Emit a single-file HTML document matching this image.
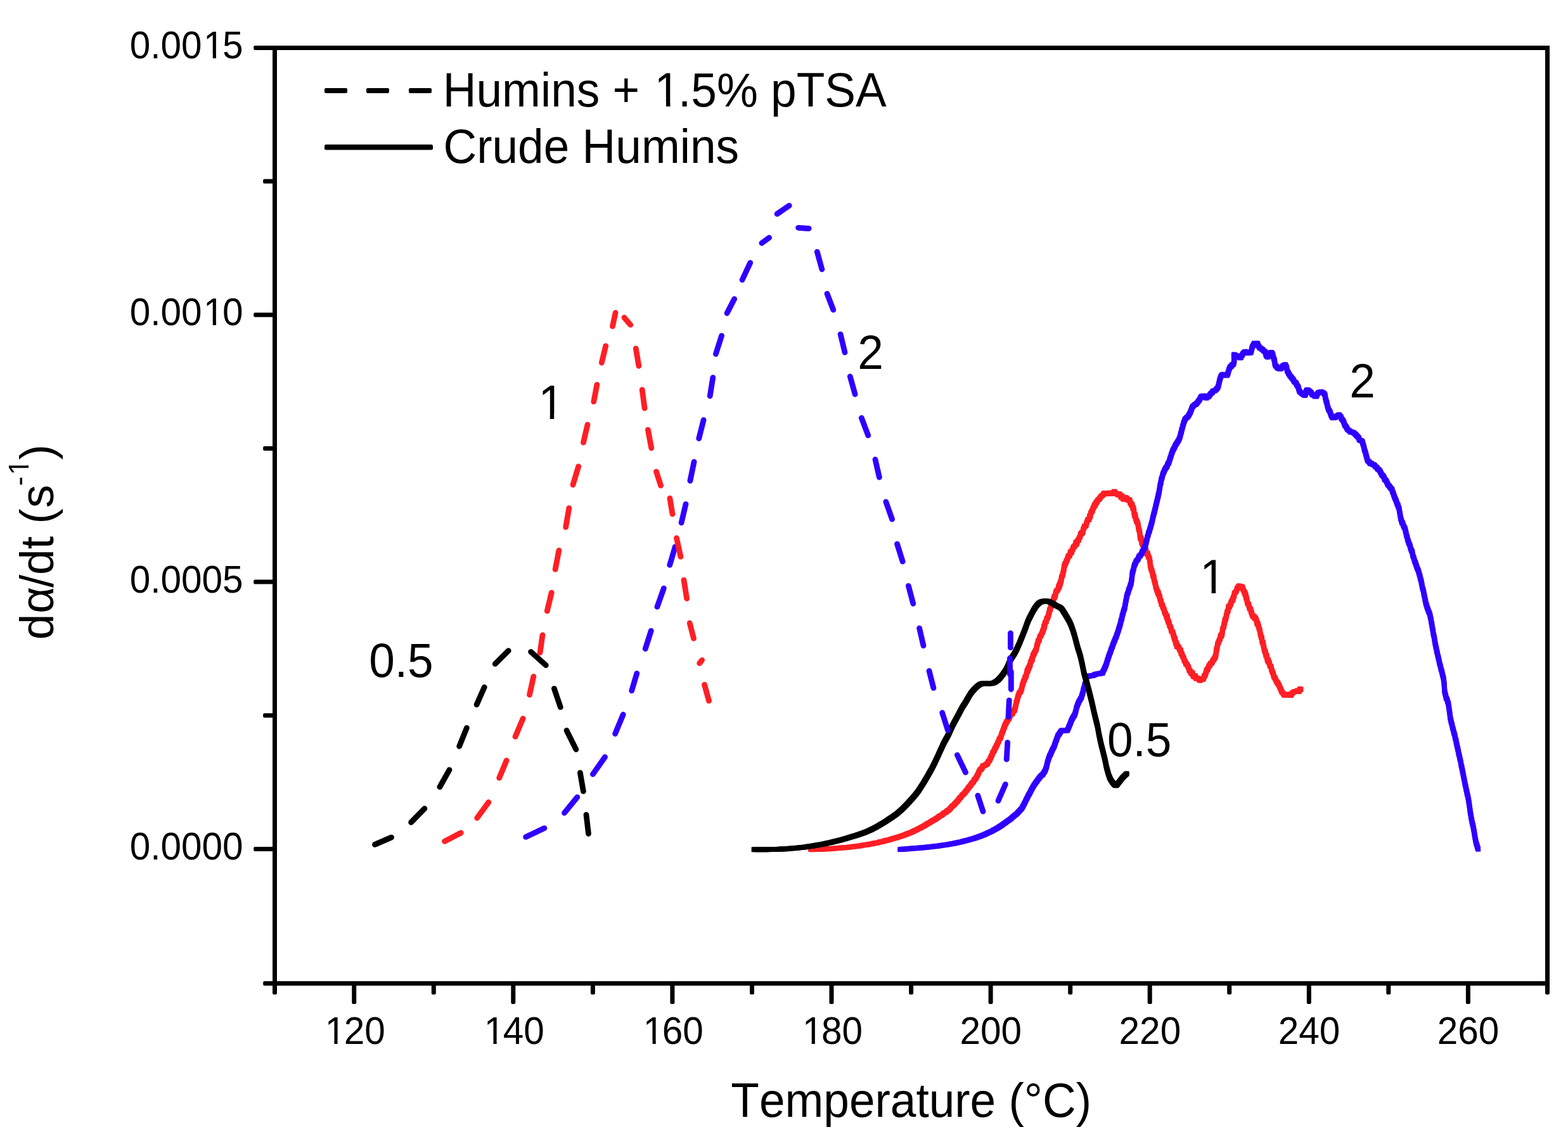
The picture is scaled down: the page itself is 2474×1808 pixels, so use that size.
<!DOCTYPE html>
<html lang="en"><head><meta charset="utf-8"><title>Humins DSC conversion rate</title>
<style>
html,body{margin:0;padding:0;background:#fff;}
body{width:2474px;height:1808px;overflow:hidden;}
svg{display:block;}
text{font-family:"Liberation Sans",sans-serif;fill:#000;font-kerning:none;}
.tk{font-size:58.5px;}
.lb{font-size:73.0px;}
.fr{stroke:#000;stroke-width:7;fill:none;stroke-linecap:butt;stroke-linejoin:miter;}
.m{fill:#fff;}
</style></head><body>
<svg width="2474" height="1808" viewBox="0 0 2474 1808">
<rect x="0" y="0" width="2474" height="1808" fill="#fff"/>
<text class="tk" transform="translate(204.66 91.60) scale(1 1.03)">0.00<tspan dx="2.57">1</tspan><tspan dx="-2.57">5</tspan></text><rect class="m" x="324.02" y="85.88" width="11.76" height="7.22"/><rect class="m" x="340.99" y="85.88" width="11.12" height="7.22"/>
<text class="tk" transform="translate(204.66 513.20) scale(1 1.03)">0.00<tspan dx="2.57">1</tspan><tspan dx="-2.57">0</tspan></text><rect class="m" x="324.02" y="507.48" width="11.76" height="7.22"/><rect class="m" x="340.99" y="507.48" width="11.12" height="7.22"/>
<text class="tk" transform="translate(204.66 934.80) scale(1 1.03)">0.0005</text>
<text class="tk" transform="translate(204.66 1356.40) scale(1 1.03)">0.0000</text>
<text class="tk" transform="translate(510.09 1646.60) scale(1 1.03)"><tspan dx="2.57">1</tspan><tspan dx="-2.57">2</tspan>0</text><rect class="m" x="515.59" y="1640.88" width="11.76" height="7.22"/><rect class="m" x="532.56" y="1640.88" width="11.12" height="7.22"/>
<text class="tk" transform="translate(761.19 1646.60) scale(1 1.03)"><tspan dx="2.57">1</tspan><tspan dx="-2.57">4</tspan>0</text><rect class="m" x="766.69" y="1640.88" width="11.76" height="7.22"/><rect class="m" x="783.66" y="1640.88" width="11.12" height="7.22"/>
<text class="tk" transform="translate(1012.29 1646.60) scale(1 1.03)"><tspan dx="2.57">1</tspan><tspan dx="-2.57">6</tspan>0</text><rect class="m" x="1017.79" y="1640.88" width="11.76" height="7.22"/><rect class="m" x="1034.76" y="1640.88" width="11.12" height="7.22"/>
<text class="tk" transform="translate(1263.39 1646.60) scale(1 1.03)"><tspan dx="2.57">1</tspan><tspan dx="-2.57">8</tspan>0</text><rect class="m" x="1268.89" y="1640.88" width="11.76" height="7.22"/><rect class="m" x="1285.86" y="1640.88" width="11.12" height="7.22"/>
<text class="tk" transform="translate(1514.49 1646.60) scale(1 1.03)">200</text>
<text class="tk" transform="translate(1765.59 1646.60) scale(1 1.03)">220</text>
<text class="tk" transform="translate(2016.69 1646.60) scale(1 1.03)">240</text>
<text class="tk" transform="translate(2267.79 1646.60) scale(1 1.03)">260</text>
<text class="lb" transform="translate(582.15 1068.00) scale(1 1.044)">0.5</text>
<text class="lb" transform="translate(846.19 661.00) scale(1 1.044)"><tspan dx="3.21">1</tspan></text><rect class="m" x="853.05" y="653.76" width="14.67" height="8.74"/><rect class="m" x="874.22" y="653.76" width="13.87" height="8.74"/>
<text class="lb" transform="translate(1353.20 581.90) scale(1 1.044)">2</text>
<text class="lb" transform="translate(2129.20 626.90) scale(1 1.044)">2</text>
<text class="lb" transform="translate(1890.09 935.90) scale(1 1.044)"><tspan dx="3.21">1</tspan></text><rect class="m" x="1896.95" y="928.66" width="14.67" height="8.74"/><rect class="m" x="1918.12" y="928.66" width="13.87" height="8.74"/>
<text class="lb" transform="translate(1747.00 1193.40) scale(1 1.044)">0.5</text>
<text class="lb" transform="translate(1153.3 1762) scale(1 1.04)">Temperature (°C)</text>
<g transform="translate(84.4 1009.2) rotate(-90)"><text class="lb" transform="scale(1 1.015)"><tspan x="0">d</tspan><tspan x="41.5">α</tspan><tspan x="82.3">/</tspan><tspan x="102.1">d</tspan><tspan x="142.9">t</tspan><tspan x="163.2"> </tspan><tspan x="182.6">(</tspan><tspan x="207.9">s</tspan><tspan x="242.6" dy="-38.52" font-size="44.5px">-</tspan><tspan x="259.8" font-size="44.5px">1</tspan><tspan x="283.7" dy="38.52">)</tspan></text><rect class="m" x="262.03" y="-43.62" width="8.94" height="5.52"/><rect class="m" x="274.93" y="-43.62" width="8.46" height="5.52"/></g>
<text class="lb" transform="translate(698.8 168.2) scale(1 1.04)">Humins + <tspan dx="3.21">1</tspan><tspan dx="-3.21">.</tspan>5% pTSA</text><rect class="m" x="1036.31" y="160.99" width="14.67" height="8.71"/><rect class="m" x="1057.48" y="160.99" width="13.87" height="8.71"/>
<text class="lb" transform="translate(699.5 257.1) scale(1 1.04)">Crude Humins</text>
<rect x="512" y="139" width="36" height="8" rx="2.2" fill="#000"/><rect x="578" y="139" width="36" height="8" rx="2.2" fill="#000"/><rect x="645" y="139" width="36" height="8" rx="2.2" fill="#000"/><rect x="512" y="228" width="171" height="8.6" rx="2.4" fill="#000"/>
<defs>
<path id="s-red" d="M1279.0 1340.2L1280.1 1340.1L1281.3 1340.1L1282.8 1340.2L1284.4 1340.0L1286.2 1340.0L1288.1 1340.0L1290.2 1339.8L1292.3 1339.8L1294.5 1339.8L1296.8 1339.8L1299.1 1339.4L1301.5 1339.4L1303.9 1339.2L1306.2 1339.3L1307.9 1339.2L1309.6 1338.8L1311.4 1339.1L1313.3 1338.9L1315.1 1338.7L1317.0 1338.5L1319.0 1338.2L1321.0 1338.0L1322.9 1338.1L1325.0 1337.7L1327.0 1337.6L1329.0 1337.4L1331.1 1337.2L1333.1 1337.2L1335.1 1337.0L1337.2 1336.9L1339.2 1336.6L1341.2 1336.4L1343.2 1336.1L1345.1 1336.0L1347.1 1335.6L1349.0 1335.3L1351.0 1335.3L1352.9 1335.1L1354.9 1334.7L1356.8 1334.4L1358.8 1334.0L1360.7 1333.6L1362.7 1333.4L1364.6 1333.0L1366.6 1332.9L1368.5 1332.5L1370.4 1332.3L1372.4 1331.8L1374.3 1331.6L1376.3 1331.2L1378.2 1330.5L1380.2 1330.2L1382.1 1330.1L1384.1 1329.5L1386.0 1329.2L1388.0 1328.5L1390.0 1327.9L1392.0 1327.7L1394.0 1327.3L1396.0 1326.5L1398.1 1326.0L1400.1 1325.5L1402.1 1325.2L1404.1 1324.6L1406.1 1323.8L1408.1 1323.3L1410.1 1322.7L1412.0 1322.1L1413.9 1321.8L1415.8 1321.0L1417.7 1320.5L1419.5 1319.9L1421.3 1319.2L1423.0 1318.9L1425.1 1317.9L1427.1 1317.4L1429.1 1316.4L1431.0 1315.8L1432.8 1315.0L1434.6 1314.3L1436.4 1313.9L1438.2 1313.0L1439.9 1312.0L1441.7 1311.5L1443.4 1310.3L1445.1 1309.6L1446.8 1309.0L1448.6 1308.0L1450.4 1306.8L1452.2 1306.4L1453.9 1305.0L1455.7 1304.1L1457.5 1303.5L1459.3 1302.2L1461.1 1301.1L1462.9 1299.9L1464.7 1298.8L1466.5 1298.1L1468.3 1296.7L1470.0 1295.9L1471.8 1294.7L1473.5 1293.7L1475.2 1293.0L1476.8 1291.6L1478.4 1290.6L1479.9 1289.9L1481.4 1288.3L1483.3 1287.0L1485.2 1286.5L1486.9 1285.2L1488.6 1283.5L1490.2 1282.4L1491.7 1281.8L1493.2 1280.9L1494.7 1279.0L1496.2 1278.5L1497.7 1277.2L1499.2 1275.6L1500.8 1273.9L1502.2 1272.2L1503.6 1270.8L1505.1 1270.4L1506.5 1268.0L1507.9 1267.0L1509.4 1264.9L1510.8 1264.0L1512.2 1262.1L1513.6 1260.1L1515.0 1258.3L1516.4 1257.5L1517.7 1255.0L1519.0 1253.7L1520.3 1252.7L1521.7 1251.4L1523.1 1249.4L1524.5 1247.3L1525.8 1246.7L1527.1 1244.0L1528.4 1242.2L1529.7 1241.0L1531.0 1239.7L1532.2 1237.4L1533.4 1236.0L1534.6 1234.6L1535.9 1233.3L1537.0 1230.8L1538.1 1229.5L1539.2 1228.6L1540.4 1226.8L1541.5 1224.3L1542.6 1222.5L1543.6 1220.4L1544.7 1217.7L1545.7 1215.7L1546.7 1214.0L1547.7 1214.2L1548.6 1212.4L1549.5 1211.7L1551.2 1207.9L1552.8 1208.0L1554.2 1207.0L1555.5 1206.9L1556.8 1205.1L1558.2 1205.1L1559.1 1201.7L1560.0 1201.2L1560.9 1199.9L1561.8 1198.5L1562.7 1196.2L1563.6 1194.2L1564.5 1192.4L1565.4 1190.6L1566.4 1187.2L1567.2 1186.4L1568.1 1185.3L1568.9 1183.6L1569.8 1180.8L1570.7 1180.0L1571.6 1178.4L1572.5 1175.9L1573.4 1174.3L1574.3 1171.9L1575.1 1170.7L1575.9 1169.0L1576.7 1165.8L1577.6 1165.5L1578.4 1164.5L1579.2 1162.2L1580.0 1159.8L1580.7 1156.8L1581.5 1155.9L1582.2 1153.5L1582.9 1151.2L1583.6 1150.6L1584.3 1146.7L1585.0 1147.1L1585.9 1142.8L1586.8 1142.6L1587.6 1140.6L1588.4 1138.2L1589.2 1138.1L1590.1 1135.8L1591.1 1134.4L1592.2 1133.7L1593.4 1130.0L1594.6 1127.5L1595.9 1126.7L1597.2 1126.2L1598.4 1122.8L1599.5 1120.8L1600.5 1121.4L1601.1 1118.8L1601.7 1116.3L1602.2 1116.0L1602.7 1112.1L1603.1 1111.4L1603.5 1107.8L1603.9 1106.7L1604.3 1106.2L1604.8 1104.8L1605.3 1103.0L1606.0 1099.1L1606.8 1098.0L1607.5 1095.2L1608.3 1092.7L1609.1 1092.3L1609.9 1091.9L1610.7 1090.2L1611.4 1087.9L1612.0 1087.0L1612.7 1082.5L1613.3 1080.2L1613.9 1079.5L1614.4 1077.0L1615.0 1074.9L1615.6 1073.9L1616.2 1073.0L1616.9 1070.5L1617.6 1067.8L1618.3 1068.1L1619.0 1066.8L1619.7 1062.7L1620.4 1059.2L1621.0 1057.2L1621.7 1059.0L1622.4 1053.7L1623.1 1054.9L1623.8 1052.6L1624.5 1049.8L1625.2 1050.2L1625.9 1044.9L1626.6 1043.6L1627.3 1043.2L1628.0 1039.3L1628.7 1041.1L1629.3 1036.4L1630.0 1034.0L1630.7 1031.7L1631.4 1032.5L1632.1 1029.7L1632.8 1028.7L1633.5 1026.9L1634.2 1025.8L1634.9 1024.6L1635.6 1021.4L1636.3 1017.1L1637.0 1016.5L1637.7 1013.1L1638.3 1010.3L1639.0 1010.7L1639.7 1010.1L1640.4 1005.5L1641.1 1004.2L1641.8 1002.9L1642.5 1003.0L1643.2 1000.5L1643.9 999.2L1644.6 998.2L1645.3 994.5L1645.9 994.9L1646.5 993.7L1647.1 987.6L1647.7 990.1L1648.3 987.1L1648.9 982.2L1649.5 982.1L1650.1 981.2L1650.8 980.7L1651.5 976.0L1652.2 975.0L1653.0 974.7L1653.6 972.4L1654.3 971.3L1654.9 967.0L1655.6 965.9L1656.2 961.6L1656.8 962.3L1657.3 960.8L1657.9 957.9L1658.6 956.2L1659.2 951.8L1659.9 953.4L1660.6 951.9L1661.3 949.9L1662.0 945.6L1662.7 945.1L1663.4 940.9L1664.2 942.0L1665.0 939.8L1665.8 935.4L1666.6 932.3L1667.5 932.4L1668.3 931.2L1669.0 930.7L1669.8 927.8L1670.6 924.1L1671.3 926.5L1672.2 920.5L1673.1 921.6L1673.5 916.9L1673.9 916.2L1674.3 916.8L1674.8 911.5L1675.2 909.6L1675.7 909.5L1676.2 908.5L1676.7 906.9L1677.1 904.0L1677.6 903.3L1678.1 898.9L1678.6 899.3L1679.1 892.9L1679.5 891.9L1680.0 891.9L1680.8 888.4L1681.5 888.5L1682.3 886.1L1683.1 883.7L1683.8 883.7L1684.6 880.6L1685.4 877.8L1686.1 876.6L1686.9 877.5L1687.9 875.9L1688.9 870.6L1689.9 872.3L1690.8 871.3L1691.8 867.5L1692.8 866.2L1693.8 862.7L1694.8 862.8L1695.8 861.0L1696.8 859.9L1697.7 855.3L1698.7 858.6L1699.7 854.6L1700.7 852.2L1701.6 852.7L1702.4 849.7L1703.3 847.7L1704.2 846.9L1705.0 841.9L1705.9 842.6L1706.7 840.2L1707.6 841.3L1708.5 839.4L1709.4 834.2L1710.2 833.5L1711.1 829.9L1712.0 829.8L1712.9 830.0L1713.7 828.8L1714.5 825.0L1715.5 822.1L1716.5 819.6L1717.4 820.0L1718.4 819.7L1719.3 813.7L1720.3 815.1L1721.1 809.2L1721.9 808.1L1722.7 806.3L1723.5 806.6L1724.3 802.6L1725.1 800.9L1726.0 800.4L1727.1 795.8L1728.2 797.2L1729.4 792.3L1730.6 792.7L1731.7 789.7L1732.9 787.9L1734.3 787.8L1735.6 785.5L1737.0 783.5L1738.3 782.2L1739.8 781.6L1741.7 778.4L1743.8 777.7L1745.8 779.2L1747.9 778.7L1749.9 777.6L1752.0 778.9L1754.0 777.5L1755.9 778.7L1758.2 775.4L1760.4 778.3L1762.8 779.6L1764.2 780.9L1765.7 779.0L1767.3 780.2L1768.9 784.7L1770.4 782.3L1772.0 787.4L1773.9 787.8L1775.9 784.7L1777.8 786.0L1779.6 789.4L1781.2 788.2L1782.4 788.7L1783.4 794.0L1784.4 793.5L1785.3 797.2L1786.1 795.7L1787.0 799.3L1787.6 802.5L1788.2 800.9L1788.8 803.9L1789.3 808.4L1789.9 811.8L1790.4 814.2L1791.0 811.9L1791.6 815.9L1792.1 819.3L1792.7 819.9L1793.3 822.9L1793.9 822.3L1794.5 823.7L1795.1 825.9L1795.6 827.6L1796.2 832.3L1796.6 834.1L1797.1 836.4L1797.5 836.3L1797.9 838.6L1798.3 840.7L1798.7 846.0L1799.1 848.8L1799.6 850.3L1800.2 848.1L1800.7 849.9L1801.3 856.4L1801.9 855.8L1802.6 859.2L1803.4 858.9L1804.2 861.7L1805.0 863.7L1805.9 865.0L1806.8 867.6L1807.8 866.4L1808.8 871.8L1809.8 874.3L1810.7 872.7L1811.5 876.0L1812.3 879.3L1812.9 879.5L1813.4 880.4L1813.8 882.3L1814.2 886.1L1814.5 885.5L1814.9 892.1L1815.3 893.7L1815.7 895.2L1816.2 898.0L1816.8 898.8L1817.3 899.5L1817.9 902.5L1818.5 904.0L1819.1 908.5L1819.7 909.7L1820.3 909.0L1820.8 914.3L1821.3 915.5L1821.8 917.8L1822.4 920.1L1822.9 920.1L1823.4 924.8L1823.9 926.8L1824.4 927.8L1824.9 930.0L1825.6 932.2L1826.2 932.3L1826.8 935.9L1827.5 934.3L1828.1 937.6L1828.8 940.2L1829.5 939.9L1830.1 943.4L1830.7 946.6L1831.3 948.3L1832.0 948.1L1832.6 953.7L1833.3 954.1L1834.0 954.2L1834.6 957.6L1835.3 958.9L1836.1 960.8L1836.9 962.0L1837.8 967.1L1838.6 967.1L1839.4 969.3L1840.2 971.6L1841.0 974.8L1841.6 971.8L1842.2 976.9L1842.8 979.6L1843.3 979.2L1843.8 982.1L1844.4 982.3L1845.0 985.0L1845.6 987.8L1846.5 988.5L1847.5 991.1L1848.5 996.3L1849.5 996.2L1850.5 997.8L1851.4 1002.3L1852.0 1002.1L1852.5 1006.3L1853.1 1006.5L1853.6 1009.5L1854.1 1008.0L1854.7 1012.7L1855.3 1015.5L1856.0 1013.8L1856.8 1020.0L1857.8 1017.9L1858.8 1021.0L1859.9 1021.1L1860.9 1024.2L1861.9 1026.3L1862.9 1025.4L1863.7 1031.5L1864.6 1030.9L1865.3 1033.4L1866.1 1035.7L1866.9 1036.7L1867.7 1038.3L1868.6 1042.0L1869.4 1043.3L1870.3 1043.9L1871.1 1047.7L1872.0 1047.6L1872.9 1048.1L1873.8 1050.9L1874.6 1051.6L1875.5 1053.6L1876.7 1058.1L1877.8 1058.2L1879.0 1061.9L1880.1 1062.7L1881.3 1061.1L1882.4 1066.4L1884.1 1068.0L1885.8 1065.9L1887.5 1070.7L1889.3 1069.8L1891.3 1070.9L1893.4 1073.7L1895.5 1070.9L1897.4 1071.3L1898.4 1071.8L1899.4 1069.2L1900.3 1066.1L1901.2 1066.0L1902.1 1063.1L1903.1 1060.2L1904.0 1056.4L1905.0 1057.0L1906.0 1054.6L1907.0 1051.8L1908.0 1049.5L1909.0 1050.0L1910.0 1046.5L1911.0 1046.4L1912.0 1046.0L1913.1 1043.6L1914.1 1041.2L1915.1 1041.0L1916.0 1038.5L1916.9 1038.0L1917.4 1035.3L1917.9 1035.8L1918.3 1033.8L1918.7 1030.9L1919.0 1026.5L1919.4 1023.9L1919.8 1025.7L1920.2 1023.1L1920.6 1020.4L1921.0 1017.1L1921.5 1014.9L1922.1 1015.0L1922.8 1012.5L1923.5 1010.8L1924.2 1009.2L1925.0 1008.0L1925.7 1003.3L1926.4 1001.8L1927.1 1003.7L1927.8 1001.6L1928.4 999.6L1929.0 993.2L1929.6 991.3L1930.1 990.4L1930.6 989.2L1931.0 988.2L1931.5 983.4L1932.0 983.7L1932.5 979.1L1933.0 977.1L1933.5 978.3L1934.0 975.7L1934.5 974.2L1935.0 970.8L1935.5 969.3L1936.1 965.9L1936.6 964.6L1937.2 964.8L1937.7 963.5L1938.2 957.8L1938.8 956.5L1939.7 957.7L1940.7 954.7L1941.7 953.7L1942.7 949.2L1943.6 948.6L1944.5 945.8L1945.2 946.7L1945.9 942.4L1946.5 941.7L1947.1 941.3L1947.7 935.8L1948.4 935.1L1949.1 934.5L1950.5 933.0L1952.0 928.4L1953.5 926.6L1954.9 924.2L1957.2 927.9L1959.5 925.3L1960.4 926.3L1961.3 930.1L1962.2 931.3L1963.1 934.2L1964.1 934.5L1964.6 938.6L1965.2 936.8L1965.7 939.5L1966.2 943.9L1966.8 943.0L1967.4 946.4L1968.0 950.7L1968.7 952.6L1969.3 952.3L1970.0 953.4L1970.8 956.4L1971.6 960.2L1972.4 960.2L1973.2 960.7L1974.0 965.5L1974.8 966.5L1975.6 969.9L1976.6 971.8L1977.6 973.3L1978.6 972.3L1979.6 975.6L1980.6 974.5L1981.5 976.3L1982.5 978.7L1983.1 983.0L1983.7 984.5L1984.3 982.9L1984.9 985.4L1985.5 987.3L1986.1 989.2L1986.6 991.3L1987.2 993.2L1987.7 994.2L1988.2 997.9L1988.8 1001.2L1989.3 1001.9L1989.8 1005.4L1990.3 1006.0L1990.8 1006.0L1991.2 1011.0L1991.7 1013.7L1992.3 1012.8L1992.8 1013.6L1993.3 1017.9L1993.8 1019.9L1994.3 1022.0L1994.8 1025.9L1995.4 1026.4L1995.9 1029.1L1996.4 1027.5L1997.0 1031.7L1997.5 1034.7L1998.0 1033.1L1998.6 1034.8L1999.4 1040.1L2000.2 1042.9L2001.0 1041.0L2001.8 1045.2L2002.6 1044.8L2003.4 1049.5L2004.3 1051.2L2005.0 1051.1L2005.6 1052.8L2006.3 1057.1L2007.0 1058.0L2007.7 1061.0L2008.4 1061.4L2009.1 1063.1L2009.8 1067.6L2010.5 1068.1L2011.2 1068.9L2012.2 1071.1L2013.2 1073.5L2014.2 1075.1L2015.2 1077.4L2016.1 1076.8L2017.1 1080.0L2018.1 1081.1L2019.0 1083.5L2019.8 1085.2L2020.7 1087.2L2021.5 1089.4L2022.3 1091.5L2023.2 1092.1L2024.1 1093.1L2025.0 1095.0L2026.9 1096.9L2029.0 1096.2L2031.0 1096.3L2033.1 1095.2L2035.0 1097.0L2036.9 1097.1L2038.9 1093.7L2041.1 1091.8L2043.0 1091.1L2045.1 1091.0L2047.4 1089.4L2049.5 1091.0L2051.3 1086.7L2052.6 1087.8"/>
<path id="s-blue" d="M1420.1 1340.2L1421.2 1340.0L1422.4 1339.8L1423.9 1339.9L1425.5 1339.6L1427.2 1339.6L1429.1 1339.4L1431.0 1339.2L1433.1 1339.2L1435.2 1338.8L1437.4 1338.8L1439.7 1338.5L1442.0 1338.3L1444.3 1338.3L1446.6 1338.2L1448.9 1337.7L1451.2 1337.6L1453.5 1337.5L1455.7 1337.5L1457.9 1337.1L1459.9 1336.8L1461.9 1336.9L1463.9 1336.3L1465.9 1336.4L1467.9 1335.9L1469.9 1335.7L1471.8 1335.4L1473.8 1335.3L1475.7 1335.3L1477.7 1334.8L1479.6 1334.7L1481.5 1334.5L1483.5 1334.1L1485.4 1333.9L1487.3 1333.5L1489.2 1333.2L1491.2 1333.0L1493.1 1332.9L1495.0 1332.4L1496.9 1332.1L1498.9 1331.8L1500.8 1331.4L1502.8 1331.0L1504.8 1330.8L1506.8 1330.3L1508.8 1329.7L1510.8 1329.4L1512.8 1328.9L1514.8 1328.6L1516.9 1328.1L1518.9 1327.4L1520.9 1327.2L1522.9 1326.4L1524.9 1326.0L1526.8 1325.6L1528.8 1324.8L1530.7 1324.4L1532.6 1323.7L1534.4 1323.4L1536.2 1322.9L1538.0 1322.3L1539.7 1321.8L1541.9 1320.9L1543.9 1320.3L1546.0 1319.5L1548.0 1318.8L1549.9 1317.9L1551.8 1317.3L1553.7 1316.5L1555.6 1315.5L1557.4 1314.8L1559.1 1313.7L1560.9 1313.2L1562.6 1312.3L1564.2 1311.7L1565.8 1310.8L1567.4 1309.7L1568.9 1309.0L1570.9 1308.1L1572.7 1306.8L1574.4 1306.0L1576.1 1304.9L1577.6 1303.9L1579.1 1302.9L1580.6 1302.2L1582.1 1300.8L1583.6 1299.8L1585.1 1298.8L1586.7 1297.8L1588.4 1296.2L1589.9 1295.2L1591.5 1294.1L1593.1 1293.0L1594.8 1291.7L1596.4 1290.4L1598.1 1288.7L1599.8 1287.4L1601.4 1286.0L1603.1 1284.9L1604.6 1283.6L1606.1 1281.7L1607.5 1280.4L1608.8 1279.0L1610.0 1277.7L1611.5 1276.1L1612.7 1274.4L1613.8 1272.4L1614.8 1270.4L1615.7 1268.9L1616.5 1267.1L1617.3 1265.5L1618.1 1264.0L1619.0 1262.0L1620.0 1260.0L1620.9 1258.4L1621.8 1256.7L1622.7 1254.4L1623.7 1253.3L1624.6 1251.4L1625.5 1249.7L1626.5 1247.9L1627.4 1245.8L1628.4 1244.2L1629.3 1242.3L1630.2 1241.2L1631.4 1238.9L1632.6 1237.1L1633.7 1235.5L1634.9 1233.8L1636.1 1232.4L1637.3 1230.6L1638.4 1229.0L1639.5 1227.7L1640.5 1226.3L1641.8 1224.9L1643.1 1223.3L1644.3 1222.9L1645.5 1221.4L1646.6 1219.6L1647.7 1218.1L1648.8 1216.2L1649.4 1214.7L1650.0 1212.8L1650.5 1211.8L1651.1 1210.1L1651.6 1207.6L1652.1 1205.6L1652.6 1203.1L1653.2 1201.1L1653.7 1199.4L1654.3 1197.4L1654.9 1196.1L1655.7 1193.5L1656.5 1191.4L1657.3 1190.5L1658.2 1188.2L1659.1 1185.9L1659.9 1184.5L1660.8 1182.1L1661.6 1180.8L1662.4 1179.6L1663.2 1177.7L1664.0 1175.5L1664.7 1173.0L1665.4 1171.2L1666.1 1168.9L1666.8 1167.8L1667.4 1165.6L1668.1 1164.2L1668.7 1162.0L1669.3 1160.4L1670.5 1158.9L1671.7 1157.2L1672.9 1155.3L1673.8 1154.0L1674.5 1153.0L1674.5 1152.9L1675.9 1152.3L1678.0 1152.7L1680.3 1152.6L1682.3 1152.3L1683.8 1152.3L1683.8 1152.7L1684.2 1151.5L1684.9 1150.5L1685.6 1149.0L1686.5 1146.3L1687.3 1144.8L1688.2 1142.7L1689.1 1140.6L1689.9 1138.0L1690.8 1135.9L1691.8 1134.1L1692.7 1132.4L1693.6 1130.7L1694.5 1129.6L1695.3 1128.3L1696.1 1126.3L1696.8 1123.8L1697.4 1122.0L1697.9 1120.1L1698.4 1116.9L1699.0 1115.7L1699.5 1114.0L1700.2 1111.8L1701.0 1110.0L1701.9 1107.9L1702.8 1105.8L1703.7 1105.1L1704.6 1102.7L1705.5 1101.6L1706.4 1099.8L1707.0 1097.3L1707.5 1095.5L1708.1 1094.5L1708.6 1092.2L1709.2 1089.3L1709.7 1087.2L1710.2 1085.3L1710.7 1084.7L1711.1 1082.7L1711.5 1079.9L1712.1 1078.8L1712.7 1076.8L1713.2 1074.0L1713.6 1071.4L1714.0 1069.9L1714.4 1067.6L1714.6 1066.3L1714.6 1068.0L1715.8 1067.2L1717.3 1066.6L1719.1 1067.0L1721.2 1065.7L1723.4 1066.0L1725.8 1065.4L1728.2 1063.8L1730.5 1063.4L1732.7 1063.0L1734.8 1062.5L1736.6 1062.7L1738.2 1061.8L1739.3 1061.9L1739.3 1061.3L1739.8 1061.7L1740.4 1059.2L1741.2 1057.8L1742.0 1056.1L1742.9 1054.7L1743.8 1051.7L1744.7 1050.5L1745.5 1047.6L1746.1 1046.0L1746.7 1044.2L1747.3 1041.3L1748.0 1040.3L1748.6 1037.8L1749.2 1035.5L1749.8 1035.2L1750.4 1032.1L1751.1 1030.8L1751.7 1029.5L1752.4 1027.3L1753.0 1024.9L1753.7 1023.5L1754.4 1021.7L1755.1 1020.4L1755.8 1017.2L1756.5 1016.4L1757.2 1013.9L1757.8 1012.1L1758.5 1011.4L1759.2 1009.0L1759.9 1007.3L1760.6 1006.0L1761.3 1004.5L1762.0 1001.7L1762.7 1000.2L1763.4 998.1L1764.0 996.2L1764.6 994.8L1765.1 992.5L1765.6 990.8L1766.2 988.8L1766.7 988.0L1767.2 985.6L1767.7 984.1L1768.2 982.3L1768.7 979.0L1769.2 977.8L1769.7 976.8L1770.2 974.7L1770.7 971.3L1771.3 969.5L1771.8 968.4L1772.3 965.7L1772.8 964.2L1773.3 962.0L1773.8 961.4L1774.3 959.7L1774.8 958.0L1775.2 954.3L1775.6 953.5L1775.9 951.3L1776.3 948.0L1776.7 947.5L1777.1 945.6L1777.5 941.9L1777.9 941.5L1778.4 938.3L1779.0 936.6L1779.6 935.7L1780.3 933.5L1781.0 930.1L1781.7 928.9L1782.4 927.2L1783.0 925.0L1783.7 922.9L1784.2 921.4L1784.7 920.5L1785.1 916.8L1785.5 915.8L1785.7 913.5L1785.9 910.4L1786.1 909.1L1786.3 907.7L1786.5 905.5L1786.9 902.5L1787.4 902.4L1787.9 899.8L1788.5 898.1L1789.2 894.1L1789.8 892.5L1790.5 890.1L1791.2 889.9L1792.1 886.9L1792.9 884.9L1793.8 884.0L1794.7 883.5L1795.7 881.8L1796.7 879.0L1797.7 877.1L1798.9 877.2L1800.0 874.8L1801.2 873.5L1802.2 870.5L1803.2 868.7L1804.1 868.4L1804.9 866.1L1805.6 863.5L1806.3 863.6L1806.9 861.1L1807.6 859.5L1808.1 856.1L1808.6 856.0L1809.0 852.4L1809.4 852.2L1809.9 849.4L1810.3 847.3L1810.8 845.8L1811.4 844.8L1812.0 841.5L1812.7 839.3L1813.4 838.3L1814.0 835.8L1814.6 833.7L1815.2 831.9L1815.7 829.8L1816.2 828.3L1816.7 826.6L1817.1 824.7L1817.6 823.9L1818.0 821.0L1818.5 819.6L1818.9 817.0L1819.4 815.5L1819.9 813.0L1820.3 811.6L1820.8 809.2L1821.3 808.9L1821.7 806.6L1822.2 803.8L1822.7 802.5L1823.1 801.4L1823.6 797.6L1824.1 797.1L1824.5 794.2L1825.0 792.3L1825.5 791.0L1826.0 788.0L1826.4 786.3L1826.9 784.6L1827.4 783.3L1827.8 779.8L1828.3 778.9L1828.7 776.6L1829.1 774.4L1829.5 771.8L1829.9 769.6L1830.2 767.0L1830.6 765.1L1831.0 763.0L1831.4 762.6L1831.8 759.6L1832.2 757.4L1832.6 755.4L1833.0 755.2L1833.4 753.5L1834.0 751.3L1834.6 748.5L1835.3 746.6L1836.1 744.9L1836.9 743.6L1837.7 741.1L1838.6 739.9L1839.5 737.8L1840.3 737.6L1841.3 735.9L1842.2 733.3L1843.1 730.8L1844.0 730.6L1844.9 727.3L1845.6 725.5L1846.2 722.7L1846.9 721.5L1847.5 719.7L1848.1 717.7L1848.7 715.1L1849.5 713.9L1850.3 710.8L1851.3 709.4L1852.3 707.1L1853.2 705.9L1854.2 703.3L1855.2 701.4L1856.2 700.1L1857.2 698.2L1858.1 697.1L1859.1 695.1L1860.1 693.6L1861.0 691.3L1861.6 689.6L1862.2 687.9L1862.8 684.8L1863.4 682.5L1864.0 681.8L1864.5 677.8L1865.0 677.1L1865.6 675.1L1866.2 671.6L1866.7 671.3L1867.1 669.5L1867.6 667.1L1868.2 665.5L1869.0 664.0L1870.0 660.9L1871.1 660.2L1872.3 658.7L1873.6 658.0L1874.8 656.4L1875.9 654.8L1876.9 652.5L1877.9 651.1L1878.8 648.6L1879.7 646.6L1880.6 643.7L1881.7 641.6L1882.9 640.2L1884.2 639.4L1885.6 637.7L1887.0 638.0L1888.6 635.8L1889.8 634.5L1891.1 632.6L1892.5 630.7L1893.9 628.3L1895.3 625.4L1896.6 625.8L1897.8 624.7L1899.9 624.6L1901.6 626.7L1903.5 628.0L1905.2 625.9L1907.0 625.9L1908.8 623.0L1910.4 621.0L1911.7 619.9L1912.8 619.4L1913.8 616.8L1915.0 616.7L1916.9 616.2L1919.0 614.4L1920.8 612.4L1921.5 611.2L1922.1 609.8L1922.6 607.9L1923.1 605.4L1923.7 603.4L1924.2 600.3L1924.8 598.3L1925.4 596.4L1925.9 595.4L1926.7 592.8L1927.7 592.2L1929.4 590.6L1931.6 591.2L1933.8 592.1L1935.7 592.4L1936.6 591.1L1937.4 589.3L1938.1 586.4L1938.7 584.6L1939.4 582.3L1940.3 580.4L1941.4 578.0L1942.7 578.2L1944.0 575.2L1945.3 575.5L1946.4 573.9L1947.2 570.2L1947.5 569.2L1947.4 567.7L1947.1 565.7L1946.8 562.4L1946.8 560.3L1947.2 559.2L1948.5 560.9L1950.3 560.5L1952.4 563.0L1954.6 563.3L1956.4 564.5L1957.7 564.5L1958.8 561.1L1959.9 560.6L1960.9 557.9L1962.0 557.1L1963.3 555.6L1965.1 554.6L1967.0 556.9L1969.0 557.1L1970.9 556.8L1972.5 556.4L1973.4 556.4L1974.1 554.6L1974.7 552.2L1975.3 549.6L1975.8 547.9L1976.4 545.9L1977.1 545.6L1978.9 541.5L1980.9 541.9L1982.9 542.1L1984.0 541.5L1985.1 544.9L1986.2 546.4L1987.4 548.8L1988.6 549.0L1990.3 550.5L1992.2 551.4L1994.0 553.8L1995.5 554.2L1996.4 555.5L1997.0 558.0L1997.5 560.0L1998.1 561.4L1999.0 562.4L2000.2 563.4L2001.6 560.4L2003.1 559.6L2004.6 556.3L2005.9 555.8L2006.8 557.1L2007.6 557.8L2008.4 560.2L2009.2 563.6L2009.8 565.6L2010.5 567.4L2011.0 569.2L2011.3 572.0L2011.6 574.3L2012.0 575.5L2012.8 577.5L2014.1 577.9L2015.8 580.9L2017.7 581.3L2019.7 582.2L2021.2 581.2L2023.0 578.8L2024.7 576.5L2026.3 577.1L2027.7 575.1L2028.7 576.8L2029.5 578.2L2030.1 580.3L2030.8 583.6L2031.5 586.5L2032.3 586.9L2033.3 589.7L2034.4 590.7L2035.5 593.0L2036.7 594.4L2038.1 595.9L2039.2 597.4L2040.6 599.1L2042.1 602.3L2043.5 603.1L2044.9 604.2L2046.2 607.4L2047.3 609.2L2048.2 610.2L2048.8 611.8L2049.3 614.1L2049.8 615.9L2050.7 618.1L2052.1 619.0L2053.8 620.7L2055.6 621.9L2057.4 623.2L2058.8 623.9L2059.9 622.2L2060.6 618.8L2061.2 616.2L2062.2 615.1L2063.7 615.2L2065.4 616.7L2067.3 618.1L2069.1 620.3L2070.9 623.3L2072.7 622.9L2074.4 625.0L2076.0 625.6L2077.2 625.3L2078.2 622.1L2079.3 620.4L2080.6 619.0L2082.5 618.6L2084.6 618.1L2086.8 619.3L2088.7 620.4L2089.4 621.7L2090.0 621.5L2090.6 623.5L2091.2 627.3L2091.7 630.0L2092.2 631.4L2092.7 633.9L2093.3 634.6L2093.9 637.6L2094.5 640.9L2095.2 642.7L2095.8 644.8L2096.5 647.0L2097.1 647.2L2097.9 648.6L2098.9 651.1L2099.9 654.2L2101.0 656.6L2102.2 658.7L2103.6 659.2L2105.3 659.0L2107.2 658.3L2109.2 656.3L2111.1 655.5L2112.8 654.2L2114.2 656.7L2115.4 656.9L2116.4 660.2L2117.5 661.6L2118.6 662.9L2119.5 664.3L2120.4 666.5L2121.4 669.4L2122.3 671.6L2123.3 672.3L2124.3 673.9L2125.6 676.6L2127.0 678.3L2128.4 679.2L2129.8 680.1L2131.2 681.9L2132.9 681.4L2134.7 682.3L2136.4 683.0L2138.1 685.0L2139.3 685.5L2140.5 687.6L2141.7 688.4L2142.9 689.6L2144.0 691.3L2145.0 694.2L2146.7 695.1L2148.2 695.2L2149.6 696.8L2150.2 699.3L2150.8 701.5L2151.3 702.9L2151.9 704.7L2152.5 707.9L2153.1 710.7L2153.6 711.3L2154.2 712.9L2154.8 715.7L2155.5 718.1L2156.1 720.9L2156.7 721.9L2157.3 725.2L2158.0 726.8L2158.8 727.7L2160.3 728.8L2162.0 731.5L2163.8 730.8L2165.7 733.0L2167.2 732.9L2168.8 734.1L2170.5 736.6L2172.1 737.0L2173.8 740.2L2174.9 740.6L2176.1 741.5L2177.3 743.2L2178.4 745.4L2179.6 747.6L2180.7 750.0L2181.8 749.9L2182.9 752.1L2183.9 753.4L2184.8 756.8L2185.8 756.7L2186.8 758.1L2187.7 759.7L2188.7 762.0L2189.9 764.7L2191.1 766.0L2192.2 767.0L2193.4 769.0L2194.5 770.4L2195.6 771.0L2196.3 772.2L2197.0 775.5L2197.6 776.9L2198.2 777.2L2198.9 780.5L2199.5 781.8L2200.1 783.7L2200.7 785.4L2201.4 786.8L2202.2 788.5L2203.1 791.0L2203.9 793.0L2204.8 796.2L2205.6 796.3L2206.4 800.1L2207.1 800.7L2207.6 802.9L2208.0 805.9L2208.3 808.0L2208.7 809.3L2209.0 810.6L2209.3 813.7L2209.7 815.6L2210.1 818.8L2210.6 819.0L2211.3 821.6L2212.0 824.7L2212.9 824.5L2213.7 827.2L2214.6 829.9L2215.5 831.8L2216.3 832.5L2216.8 834.1L2217.4 836.0L2217.9 839.7L2218.4 840.2L2218.9 843.3L2219.4 845.6L2220.0 846.4L2220.5 848.2L2221.0 851.6L2221.5 852.7L2222.1 853.7L2222.7 856.7L2223.4 857.8L2224.1 859.6L2224.8 860.9L2225.4 864.3L2226.1 866.4L2226.7 867.5L2227.3 869.7L2227.8 869.3L2228.4 871.7L2228.8 873.9L2229.2 876.4L2229.6 878.0L2230.1 878.6L2230.8 880.6L2231.3 882.6L2231.9 884.4L2232.6 887.1L2233.3 887.3L2234.0 890.6L2234.8 892.5L2235.5 894.7L2236.3 896.7L2237.0 898.4L2237.7 899.9L2238.4 902.0L2238.9 904.0L2239.5 906.8L2240.0 907.2L2240.5 909.4L2241.0 912.7L2241.5 913.5L2242.0 915.2L2242.5 917.2L2242.9 920.4L2243.4 922.0L2243.9 925.5L2244.4 927.4L2244.9 929.5L2245.3 929.9L2245.7 931.5L2246.2 933.5L2246.6 936.5L2247.0 939.0L2247.5 940.5L2247.9 942.0L2248.3 944.5L2248.7 946.9L2249.2 948.9L2249.6 950.9L2250.0 952.9L2250.5 954.2L2251.1 955.2L2251.7 958.7L2252.3 959.3L2253.0 961.6L2253.6 962.8L2254.2 965.3L2254.8 965.7L2255.4 967.6L2256.0 969.4L2256.5 971.2L2257.0 974.6L2257.4 975.8L2257.8 977.2L2258.2 979.4L2258.5 982.7L2258.9 983.7L2259.3 985.2L2259.6 988.6L2260.0 990.3L2260.3 993.2L2260.7 993.3L2261.1 996.1L2261.4 998.9L2261.8 1001.0L2262.2 1003.1L2262.5 1003.2L2262.9 1005.7L2263.2 1007.3L2263.6 1009.4L2264.0 1013.1L2264.4 1014.3L2264.8 1017.1L2265.2 1018.0L2265.6 1021.2L2266.0 1022.2L2266.4 1023.7L2266.8 1026.7L2267.2 1029.0L2267.7 1029.2L2268.1 1032.2L2268.5 1034.3L2269.0 1035.5L2269.4 1037.8L2269.9 1039.3L2270.3 1041.4L2270.8 1043.4L2271.2 1046.0L2271.7 1048.0L2272.2 1049.2L2272.7 1051.0L2273.3 1053.7L2273.8 1056.4L2274.4 1057.5L2274.9 1059.8L2275.5 1061.6L2276.0 1064.7L2276.5 1066.2L2276.9 1067.3L2277.4 1069.3L2277.7 1071.7L2278.0 1074.0L2278.3 1076.2L2278.5 1077.2L2278.6 1079.3L2278.8 1082.2L2278.9 1083.6L2279.0 1085.3L2279.1 1087.2L2279.3 1090.3L2279.5 1090.9L2279.8 1093.2L2280.3 1094.9L2280.9 1097.0L2281.5 1099.8L2282.1 1101.9L2282.8 1102.7L2283.5 1104.3L2284.1 1107.2L2284.7 1108.4L2285.3 1110.3L2285.6 1113.7L2286.0 1114.7L2286.2 1117.4L2286.5 1118.6L2286.8 1121.4L2287.0 1122.7L2287.3 1124.2L2287.5 1126.0L2287.8 1129.1L2288.1 1131.4L2288.5 1134.0L2288.9 1134.7L2289.3 1137.5L2289.7 1138.9L2290.2 1141.1L2290.7 1142.4L2291.2 1144.6L2291.7 1146.9L2292.2 1149.6L2292.8 1150.1L2293.3 1152.8L2293.9 1155.4L2294.4 1157.6L2294.9 1158.2L2295.4 1160.1L2295.9 1163.5L2296.3 1165.5L2296.8 1166.6L2297.3 1167.8L2297.7 1171.3L2298.1 1172.3L2298.6 1175.2L2299.0 1176.7L2299.4 1179.0L2299.9 1179.8L2300.3 1182.9L2300.7 1183.8L2301.1 1186.0L2301.5 1188.7L2301.9 1190.5L2302.4 1191.5L2302.8 1193.6L2303.3 1196.0L2303.7 1198.2L2304.2 1200.0L2304.6 1201.5L2305.0 1203.7L2305.4 1206.6L2305.8 1208.9L2306.2 1209.3L2306.7 1212.2L2307.1 1214.6L2307.5 1215.3L2307.9 1218.8L2308.3 1219.5L2308.7 1222.4L2309.1 1224.3L2309.5 1226.5L2309.9 1227.9L2310.3 1230.1L2310.7 1232.4L2311.1 1234.2L2311.5 1236.6L2311.9 1238.3L2312.3 1240.3L2312.8 1241.5L2313.2 1244.6L2313.7 1246.4L2314.1 1248.0L2314.6 1250.9L2315.0 1253.0L2315.5 1254.4L2315.9 1255.9L2316.3 1258.5L2316.7 1259.8L2317.1 1261.9L2317.4 1264.5L2317.7 1265.9L2318.1 1268.6L2318.4 1270.8L2318.6 1272.0L2318.9 1275.1L2319.2 1276.1L2319.5 1279.3L2319.8 1281.4L2320.1 1282.9L2320.4 1284.1L2320.7 1286.8L2321.1 1288.6L2321.5 1291.7L2321.9 1292.2L2322.3 1295.5L2322.8 1297.7L2323.2 1299.1L2323.7 1301.2L2324.1 1301.9L2324.5 1305.2L2324.9 1306.1L2325.2 1308.8L2325.6 1310.9L2326.0 1311.7L2326.3 1314.9L2326.6 1317.3L2326.9 1317.7L2327.2 1320.2L2327.6 1322.9L2327.9 1323.7L2328.3 1326.8L2328.8 1328.0L2329.4 1331.3L2330.1 1332.4L2330.7 1335.1L2331.3 1337.7L2331.8 1338.0L2332.2 1339.7"/>
<path id="s-black" d="M1189.5 1340.2L1191.8 1340.2L1194.8 1340.2L1198.3 1340.2L1202.2 1340.2L1206.5 1340.2L1210.9 1340.2L1215.5 1340.1L1220.0 1340.0L1224.3 1339.9L1228.4 1339.8L1232.3 1339.6L1236.2 1339.4L1240.1 1339.2L1243.9 1338.9L1247.8 1338.6L1251.7 1338.3L1255.6 1337.9L1259.5 1337.6L1263.4 1337.1L1267.3 1336.7L1271.2 1336.2L1275.1 1335.6L1279.0 1335.1L1282.9 1334.5L1286.8 1333.8L1290.7 1333.1L1294.5 1332.4L1298.4 1331.7L1302.3 1330.9L1306.2 1330.1L1310.2 1329.2L1314.2 1328.2L1318.2 1327.2L1322.3 1326.2L1326.3 1325.2L1330.3 1324.1L1334.2 1323.0L1338.0 1321.9L1341.6 1320.8L1345.1 1319.7L1349.3 1318.5L1353.1 1317.2L1356.8 1316.0L1360.3 1314.8L1363.8 1313.5L1367.3 1312.2L1370.8 1310.7L1374.3 1309.0L1378.0 1307.2L1381.9 1305.2L1385.7 1303.0L1389.5 1300.7L1393.3 1298.5L1396.9 1296.2L1400.3 1294.0L1403.5 1291.9L1407.3 1289.4L1410.7 1287.0L1413.8 1284.7L1416.8 1282.4L1419.8 1279.8L1423.0 1276.9L1425.6 1274.4L1428.3 1271.7L1431.2 1268.7L1434.0 1265.7L1436.7 1262.6L1439.3 1259.8L1441.6 1257.1L1443.6 1254.8L1446.6 1251.1L1448.7 1248.3L1450.4 1245.7L1452.3 1242.8L1454.5 1239.4L1456.7 1235.9L1458.9 1232.3L1461.0 1228.6L1463.3 1224.8L1465.5 1220.9L1467.7 1217.0L1469.8 1213.4L1471.5 1210.0L1473.2 1206.7L1474.7 1203.6L1476.3 1200.3L1477.9 1196.8L1479.6 1193.3L1481.2 1189.7L1482.8 1186.1L1484.5 1182.5L1486.1 1179.0L1487.7 1175.4L1489.4 1171.9L1491.1 1168.6L1492.9 1165.5L1494.7 1162.3L1496.5 1158.9L1498.2 1155.1L1500.0 1151.2L1501.8 1147.3L1503.5 1143.6L1505.3 1140.2L1507.1 1136.9L1508.9 1133.7L1510.6 1130.5L1512.4 1127.2L1514.1 1123.8L1515.8 1120.6L1517.5 1117.4L1519.7 1113.7L1522.0 1110.2L1524.3 1106.5L1526.0 1103.5L1527.8 1100.3L1529.7 1097.1L1531.5 1094.3L1533.9 1091.1L1536.3 1088.3L1538.7 1085.8L1542.4 1082.4L1546.0 1079.8L1549.6 1078.5L1553.3 1078.0L1556.9 1078.2L1560.5 1078.6L1564.2 1078.3L1567.8 1077.4L1571.4 1075.4L1575.1 1072.5L1577.5 1070.0L1580.0 1067.1L1582.3 1064.0L1584.4 1061.0L1586.4 1057.9L1588.4 1054.4L1589.9 1051.2L1591.4 1047.7L1592.9 1044.2L1594.4 1041.0L1596.4 1037.6L1598.5 1034.6L1600.5 1031.4L1602.5 1027.6L1604.5 1023.6L1606.5 1019.3L1608.1 1015.7L1609.6 1012.0L1611.1 1008.3L1612.6 1004.7L1614.3 1000.6L1615.8 996.7L1617.4 992.6L1618.6 989.3L1619.8 985.8L1621.0 982.4L1622.3 979.3L1623.8 975.9L1625.4 972.8L1627.1 969.6L1629.0 966.0L1631.1 962.1L1633.2 958.7L1636.2 954.6L1639.2 951.5L1642.2 949.7L1645.3 948.8L1648.9 948.3L1652.5 948.4L1655.5 949.4L1658.6 950.9L1662.1 952.9L1665.8 955.1L1669.6 956.8L1673.1 958.7L1675.4 960.9L1677.9 964.8L1679.7 967.5L1681.7 970.8L1683.9 974.5L1686.0 978.2L1687.9 981.7L1689.7 985.8L1691.2 989.7L1692.6 993.7L1694.0 998.2L1695.1 1001.6L1696.1 1005.4L1697.1 1009.2L1698.1 1013.1L1699.1 1016.7L1699.9 1020.0L1701.2 1024.1L1702.3 1027.6L1703.3 1030.8L1704.3 1034.2L1705.2 1037.7L1706.0 1041.2L1706.8 1044.7L1707.6 1048.3L1708.4 1052.2L1709.2 1056.2L1710.0 1060.1L1710.8 1063.6L1711.9 1067.4L1712.9 1070.6L1714.1 1074.5L1715.2 1078.3L1716.3 1082.5L1717.4 1086.9L1718.5 1090.8L1719.6 1095.4L1720.7 1099.6L1721.7 1103.9L1722.6 1107.4L1723.4 1110.9L1724.2 1114.5L1725.0 1118.1L1725.8 1121.7L1726.6 1125.2L1727.5 1128.8L1728.3 1132.3L1729.4 1136.7L1730.5 1141.1L1731.6 1145.3L1732.3 1149.3L1733.0 1153.1L1733.7 1157.3L1734.5 1161.0L1735.3 1164.9L1736.2 1168.9L1737.0 1172.6L1738.1 1177.1L1739.2 1181.3L1740.3 1185.7L1741.1 1189.2L1742.0 1192.8L1742.9 1196.2L1743.6 1199.4L1744.6 1204.2L1745.4 1208.4L1746.6 1213.1L1747.8 1217.5L1749.0 1221.6L1750.3 1225.4L1751.7 1228.6L1753.3 1231.4L1755.1 1234.1L1756.9 1236.3L1759.6 1239.0L1761.2 1239.4L1762.7 1237.8L1764.4 1235.5L1766.6 1232.7L1768.9 1229.7L1771.4 1226.6L1774.9 1223.2L1777.8 1220.5"/>
</defs>
<g fill="none" stroke="#ff1f25" stroke-linecap="round" stroke-linejoin="round"><use href="#s-red" stroke-width="8"/><use href="#s-red" stroke-width="2.4" transform="translate(-2.8 -2.8)"/><use href="#s-red" stroke-width="2.4" transform="translate(2.8 -2.8)"/><use href="#s-red" stroke-width="2.4" transform="translate(-2.8 2.8)"/><use href="#s-red" stroke-width="2.4" transform="translate(2.8 2.8)"/></g>
<g fill="none" stroke="#3000ff" stroke-linecap="round" stroke-linejoin="round"><use href="#s-blue" stroke-width="8"/><use href="#s-blue" stroke-width="2.4" transform="translate(-2.8 -2.8)"/><use href="#s-blue" stroke-width="2.4" transform="translate(2.8 -2.8)"/><use href="#s-blue" stroke-width="2.4" transform="translate(-2.8 2.8)"/><use href="#s-blue" stroke-width="2.4" transform="translate(2.8 2.8)"/></g>
<g fill="none" stroke="#000000" stroke-linecap="round" stroke-linejoin="round"><use href="#s-black" stroke-width="8"/><use href="#s-black" stroke-width="2.4" transform="translate(-2.8 -2.8)"/><use href="#s-black" stroke-width="2.4" transform="translate(2.8 -2.8)"/><use href="#s-black" stroke-width="2.4" transform="translate(-2.8 2.8)"/><use href="#s-black" stroke-width="2.4" transform="translate(2.8 2.8)"/></g>
<g fill="none" stroke-width="8.8" stroke-linecap="round" stroke-linejoin="round">
<path stroke="#3000ff" d="M829.6 1320.4L859.0 1306.6M890.5 1282.5L910.8 1257.6M935.4 1221.5L954.5 1194.4M970.6 1157.6L983.2 1127.2M996.7 1089.7L1004.8 1062.4M1018.2 1023.6L1027.3 995.2M1036.9 957.4L1047.3 928.2M1056.7 891.4L1065.2 862.7M1075.1 824.7L1082.0 795.3M1088.9 758.5L1095.1 728.6M1102.7 691.8L1110.1 662.6M1120.2 624.7L1124.8 595.7M1129.4 558.5L1138.6 529.7M1147.1 494.1L1158.6 471.7M1171.1 441.5L1183.7 414.6M1201.9 383.5L1213.6 375.0M1226.1 337.5L1245.2 324.4M1259.6 359.4L1276.2 360.5M1289.3 397.3L1296.9 424.9M1305.0 463.3L1314.8 488.8M1326.1 527.3L1333.0 556.0M1341.3 594.0L1349.1 622.0M1359.3 659.3L1369.7 686.9M1381.0 724.9L1387.4 753.0M1397.8 791.6L1407.6 819.2M1415.5 858.1L1424.2 885.9M1433.4 924.3L1440.8 952.4M1450.6 991.1L1457.0 1018.7M1466.0 1058.4L1472.9 1085.4M1486.7 1124.5L1495.5 1152.1M1510.3 1191.1L1523.5 1218.6M1542.8 1255.2L1551.0 1280.2M1575.0 1263.3L1586.3 1237.4M1588.2 1198.0L1589.7 1171.4M1591.0 1131.0L1592.3 1104.8M1595.3 1087.5L1595.3 1059.7M1593.6 1064.4L1593.4 1038.5M1594.4 1021.7L1594.4 998.8"/>
<path stroke="#ff1f25" d="M701.5 1327.3L727.2 1314.0M752.7 1290.5L770.9 1265.7M787.7 1227.3L799.2 1199.7M813.0 1162.2L825.2 1133.6M835.5 1096.2L841.8 1067.4M852.1 1029.5L856.0 1001.9M863.3 963.9L870.2 935.1M876.1 898.3L881.9 868.4M892.7 831.6L897.8 801.7M904.0 764.8L912.7 736.0M920.5 698.1L927.0 670.0M936.8 633.7L941.9 606.8M949.3 572.3L955.7 545.8M966.5 514.8L971.1 493.4M984.9 501.0L994.8 512.5M1003.3 549.9L1007.9 577.3M1013.2 614.8L1017.1 644.0M1022.4 678.1L1027.7 706.8M1035.5 744.1L1042.6 766.1M1056.9 786.2L1061.0 811.0M1067.5 848.9L1073.9 878.3M1079.0 915.1L1083.6 944.3M1088.2 983.0L1094.5 1007.3M1103.7 1046.4L1107.6 1041.5M1111.5 1080.2L1118.6 1105.7"/>
<path stroke="#000000" d="M591.5 1332.4L617.5 1321.1M648.6 1297.4L669.9 1275.6M693.9 1241.5L709.0 1214.6M724.7 1177.3L736.4 1148.4M752.1 1111.6L764.2 1084.2M781.3 1047.4L802.2 1026.7M837.6 1028.3L861.3 1049.5M874.4 1086.3L884.3 1115.7M894.0 1152.5L908.9 1182.4M915.4 1219.2L920.4 1248.4M925.0 1285.4L928.5 1315.3"/>
</g>
<g fill="#000"><rect x="415.1" y="1548.0" width="18.4" height="7" rx="2.2"/><rect x="400.2" y="1335.9" width="33.3" height="7" rx="2.2"/><rect x="415.1" y="1125.2" width="18.4" height="7" rx="2.2"/><rect x="400.2" y="914.6" width="33.3" height="7" rx="2.2"/><rect x="415.1" y="704.0" width="18.4" height="7" rx="2.2"/><rect x="400.2" y="493.3" width="33.3" height="7" rx="2.2"/><rect x="415.1" y="282.6" width="18.4" height="7" rx="2.2"/><rect x="400.2" y="72.0" width="33.3" height="7" rx="2.2"/><rect x="430.0" y="1551.5" width="7" height="17.4" rx="2.2"/><rect x="555.2" y="1551.5" width="7" height="32.5" rx="2.2"/><rect x="680.8" y="1551.5" width="7" height="17.4" rx="2.2"/><rect x="806.3" y="1551.5" width="7" height="32.5" rx="2.2"/><rect x="931.9" y="1551.5" width="7" height="17.4" rx="2.2"/><rect x="1057.4" y="1551.5" width="7" height="32.5" rx="2.2"/><rect x="1183.0" y="1551.5" width="7" height="17.4" rx="2.2"/><rect x="1308.5" y="1551.5" width="7" height="32.5" rx="2.2"/><rect x="1434.1" y="1551.5" width="7" height="17.4" rx="2.2"/><rect x="1559.6" y="1551.5" width="7" height="32.5" rx="2.2"/><rect x="1685.2" y="1551.5" width="7" height="17.4" rx="2.2"/><rect x="1810.7" y="1551.5" width="7" height="32.5" rx="2.2"/><rect x="1936.2" y="1551.5" width="7" height="17.4" rx="2.2"/><rect x="2061.8" y="1551.5" width="7" height="32.5" rx="2.2"/><rect x="2187.3" y="1551.5" width="7" height="17.4" rx="2.2"/><rect x="2312.9" y="1551.5" width="7" height="32.5" rx="2.2"/><rect x="2438.0" y="1551.5" width="7" height="17.4" rx="2.2"/></g>
<rect class="fr" x="433.5" y="75.5" width="2008.0" height="1476.0"/>
</svg>
</body></html>
